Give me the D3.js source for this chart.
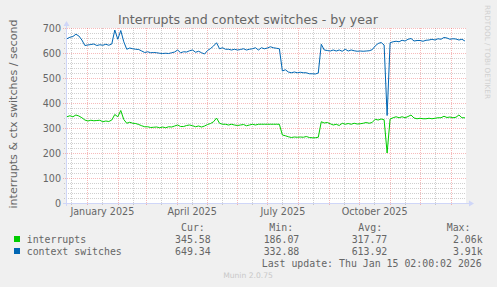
<!DOCTYPE html>
<html>
<head>
<meta charset="utf-8">
<script src="https://cdn.jsdelivr.net/npm/d3@7"></script>
<style>
  body { margin: 0; background: #f0f0f0; }
  svg { display: block; }
</style>
</head>
<body>
<svg class="main-svg" width="497" height="287"></svg>
<script>
// samples every 3 days, starting 2024-12-12
var sampleStart = new Date(2024, 11, 12),
    sampleStepDays = 3;

var interrupts = [
  345, 349, 345, 352, 348, 341, 332, 328, 331, 329, 330, 331, 325, 328, 326, 332,
  354, 345, 370, 334, 319, 323, 319, 318, 314, 309, 305, 305, 302, 303, 304, 301,
  304, 301, 305, 304, 308, 312, 306, 306, 310, 312, 309, 305, 308, 304, 308, 314,
  318, 325, 340, 319, 315, 315, 312, 315, 312, 310, 312, 314, 309, 312, 315, 312,
  315, 315, 315, 315, 315, 315, 315, 315, 272, 269, 265, 262, 264, 263, 264, 263,
  266, 262, 261, 261, 263, 325, 320, 322, 317, 312, 315, 310, 319, 315, 318, 315,
  319, 316, 317, 319, 322, 319, 322, 335, 332, 336, 333, 200, 336, 341, 345, 341,
  345, 341, 346, 352, 340, 337, 339, 337, 337, 339, 337, 339, 341, 341, 347, 342,
  344, 341, 343, 352, 341, 341
];

var contextSwitches = [
  657, 663, 666, 675, 668, 652, 630, 632, 634, 636, 630, 633, 631, 635, 631, 636,
  692, 655, 690, 645, 615, 620, 617, 615, 614, 608, 602, 605, 601, 602, 601, 599,
  598, 599, 598, 601, 604, 612, 601, 605, 604, 609, 612, 603, 607, 601, 596, 610,
  618, 628, 641, 617, 621, 615, 615, 612, 615, 612, 614, 617, 612, 615, 617, 621,
  612, 621, 617, 620, 625, 621, 619, 617, 528, 533, 524, 521, 524, 521, 523, 521,
  521, 517, 517, 516, 520, 635, 612, 610, 608, 612, 608, 612, 607, 615, 608, 612,
  609, 607, 608, 607, 608, 609, 613, 628, 638, 642, 632, 350, 641, 645, 647, 645,
  651, 648, 655, 658, 648, 650, 650, 647, 651, 652, 655, 652, 657, 655, 662, 660,
  655, 657, 656, 652, 655, 648
];

var yTicks = [0, 100, 200, 300, 400, 500, 600, 700];
var xTickDates = [new Date(2025, 0, 16), new Date(2025, 3, 16), new Date(2025, 6, 16), new Date(2025, 9, 16)];
var xTickLabels = ['January 2025', 'April 2025', 'July 2025', 'October 2025'];

var seriesNames = ['interrupts', 'context switches'],
    seriesColours = ['#00cc00', '#0066b3'],
    curValues = ['345.58', '649.34'],
    minValues = ['186.07', '332.88'],
    avgValues = ['317.77', '613.92'],
    maxValues = ['2.06k', '3.91k'];

var fontColour = '#666666',
    axisColour = '#cfd6f8',
    minorGridColour = 'rgba(140,140,140,0.42)',
    majorGridColour = 'rgba(235,90,90,0.42)',
    sans = 'DejaVu Sans, sans-serif',
    mono = 'DejaVu Sans Mono, monospace';

var d3 = window.d3;
var svg = d3.select('.main-svg');

var plotLeft = 66, plotRight = 465, plotTop = 28, plotBottom = 203;

var x = d3.scaleTime()
      .domain([new Date(2024, 11, 11, 2), new Date(2026, 0, 15, 2)])
      .range([plotLeft, plotRight]);
var y = d3.scaleLinear().domain([0, 700]).range([plotBottom, plotTop]);

function px(v) { return Math.round(v) + 0.5; }

svg.append('rect').attr('width', 497).attr('height', 287).attr('fill', '#f0f0f0');
svg.append('rect')
  .attr('x', plotLeft).attr('y', plotTop)
  .attr('width', plotRight - plotLeft + 1).attr('height', plotBottom - plotTop)
  .attr('fill', '#fff');

// grid
var minorY = d3.range(0, 701, 20).filter(d => d % 100 !== 0);
var months = d3.timeMonth.range(x.domain()[0], x.domain()[1]);
var minorX = d3.timeMonth.range(new Date(2024, 11, 1), x.domain()[1])
      .map(d => d3.timeDay.offset(d, 15))
      .filter(d => d >= x.domain()[0] && d <= x.domain()[1]);

var grid = svg.append('g').attr('stroke-dasharray', '1,1').attr('shape-rendering', 'crispEdges');
grid.selectAll('.hmin').data(minorY).enter().append('line')
  .attr('x1', plotLeft - 2).attr('x2', plotRight + 1)
  .attr('y1', d => px(y(d))).attr('y2', d => px(y(d)))
  .attr('stroke', minorGridColour);
grid.selectAll('.vmin').data(minorX).enter().append('line')
  .attr('y1', plotTop).attr('y2', plotBottom + 2)
  .attr('x1', d => px(x(d))).attr('x2', d => px(x(d)))
  .attr('stroke', minorGridColour);
grid.selectAll('.hmaj').data(yTicks.slice(1)).enter().append('line')
  .attr('x1', plotLeft - 3).attr('x2', plotRight + 1)
  .attr('y1', d => px(y(d))).attr('y2', d => px(y(d)))
  .attr('stroke', majorGridColour);
grid.selectAll('.vmaj').data(months).enter().append('line')
  .attr('y1', plotTop).attr('y2', plotBottom + 3)
  .attr('x1', d => px(x(d))).attr('x2', d => px(x(d)))
  .attr('stroke', majorGridColour);

// axes with arrows
svg.append('line')
  .attr('x1', plotLeft - 3).attr('x2', 470).attr('y1', plotBottom + 0.5).attr('y2', plotBottom + 0.5)
  .attr('stroke', axisColour);
svg.append('line')
  .attr('x1', plotLeft + 0.5).attr('x2', plotLeft + 0.5).attr('y1', plotBottom + 3).attr('y2', 24)
  .attr('stroke', axisColour);
svg.append('path').attr('d', 'M469,200.5L474,203.5L469,206.5Z').attr('fill', axisColour);
svg.append('path').attr('d', 'M63.5,26L66.5,21L69.5,26Z').attr('fill', axisColour);

// tick labels
var yAxis = svg.append('g')
  .attr('transform', 'translate(61,0)')
  .call(d3.axisLeft(y).tickValues(yTicks).tickSize(0).tickPadding(0));
var xAxis = svg.append('g')
  .attr('transform', 'translate(0,206)')
  .call(d3.axisBottom(x).tickValues(xTickDates).tickSize(0).tickPadding(0)
        .tickFormat((d, i) => xTickLabels[i]));
[yAxis, xAxis].forEach(g => {
  g.select('.domain').remove();
  g.selectAll('text').attr('fill', fontColour).style('font-family', sans).style('font-size', '9.6px');
});
yAxis.selectAll('text').attr('dy', '0.35em');
xAxis.selectAll('text').attr('dy', '0.97em');

// data lines
var sampleDates = interrupts.map((d, i) => d3.timeDay.offset(sampleStart, i * sampleStepDays));
var line = d3.line().x((d, i) => x(sampleDates[i])).y(d => y(d));
[interrupts, contextSwitches].forEach((series, i) => {
  svg.append('path')
    .attr('d', line(series))
    .attr('fill', 'none')
    .attr('stroke', seriesColours[i])
    .attr('stroke-width', 1);
});

// titles
svg.append('text')
  .attr('x', 248).attr('y', 23.5).attr('text-anchor', 'middle')
  .attr('fill', fontColour).style('font-family', sans).style('font-size', '12.6px')
  .text('Interrupts and context switches - by year');
svg.append('text')
  .attr('transform', 'translate(16.5,114) rotate(-90)')
  .attr('text-anchor', 'middle')
  .attr('fill', fontColour).style('font-family', sans).style('font-size', '11.1px')
  .text('interrupts & ctx switches / second');
svg.append('text')
  .attr('transform', 'translate(485,5) rotate(90)')
  .attr('fill', '#d0d0d0').style('font-family', sans).style('font-size', '7.3px')
  .text('RRDTOOL / TOBI OETIKER');

// legend
var legend = svg.append('g').attr('fill', fontColour).style('font-family', mono).style('font-size', '9.9px');
[['Cur:', 181], ['Min:', 269.3], ['Avg:', 358.3], ['Max:', 446.7]].forEach(h => {
  legend.append('text').attr('x', h[1]).attr('y', 230.5).text(h[0]);
});
var rows = legend.selectAll('.row').data(seriesNames).enter().append('g')
  .attr('transform', (d, i) => 'translate(0,' + (242.5 + i * 12) + ')');
rows.append('rect')
  .attr('x', 14).attr('y', -6.5).attr('width', 6).attr('height', 6)
  .attr('fill', (d, i) => seriesColours[i]);
rows.append('text').attr('x', 26.7).text(d => d);
[[curValues, 210.7], [minValues, 299.3], [avgValues, 387.3], [maxValues, 482.7]].forEach(col => {
  rows.append('text').attr('x', col[1]).attr('text-anchor', 'end').text((d, i) => col[0][i]);
});
legend.append('text').attr('x', 481.7).attr('y', 266.5).attr('text-anchor', 'end')
  .text('Last update: Thu Jan 15 02:00:02 2026');
svg.append('text')
  .attr('x', 248).attr('y', 278).attr('text-anchor', 'middle')
  .attr('fill', '#c8c8c8').style('font-family', sans).style('font-size', '7.6px')
  .text('Munin 2.0.75');
</script>
</body>
</html>
